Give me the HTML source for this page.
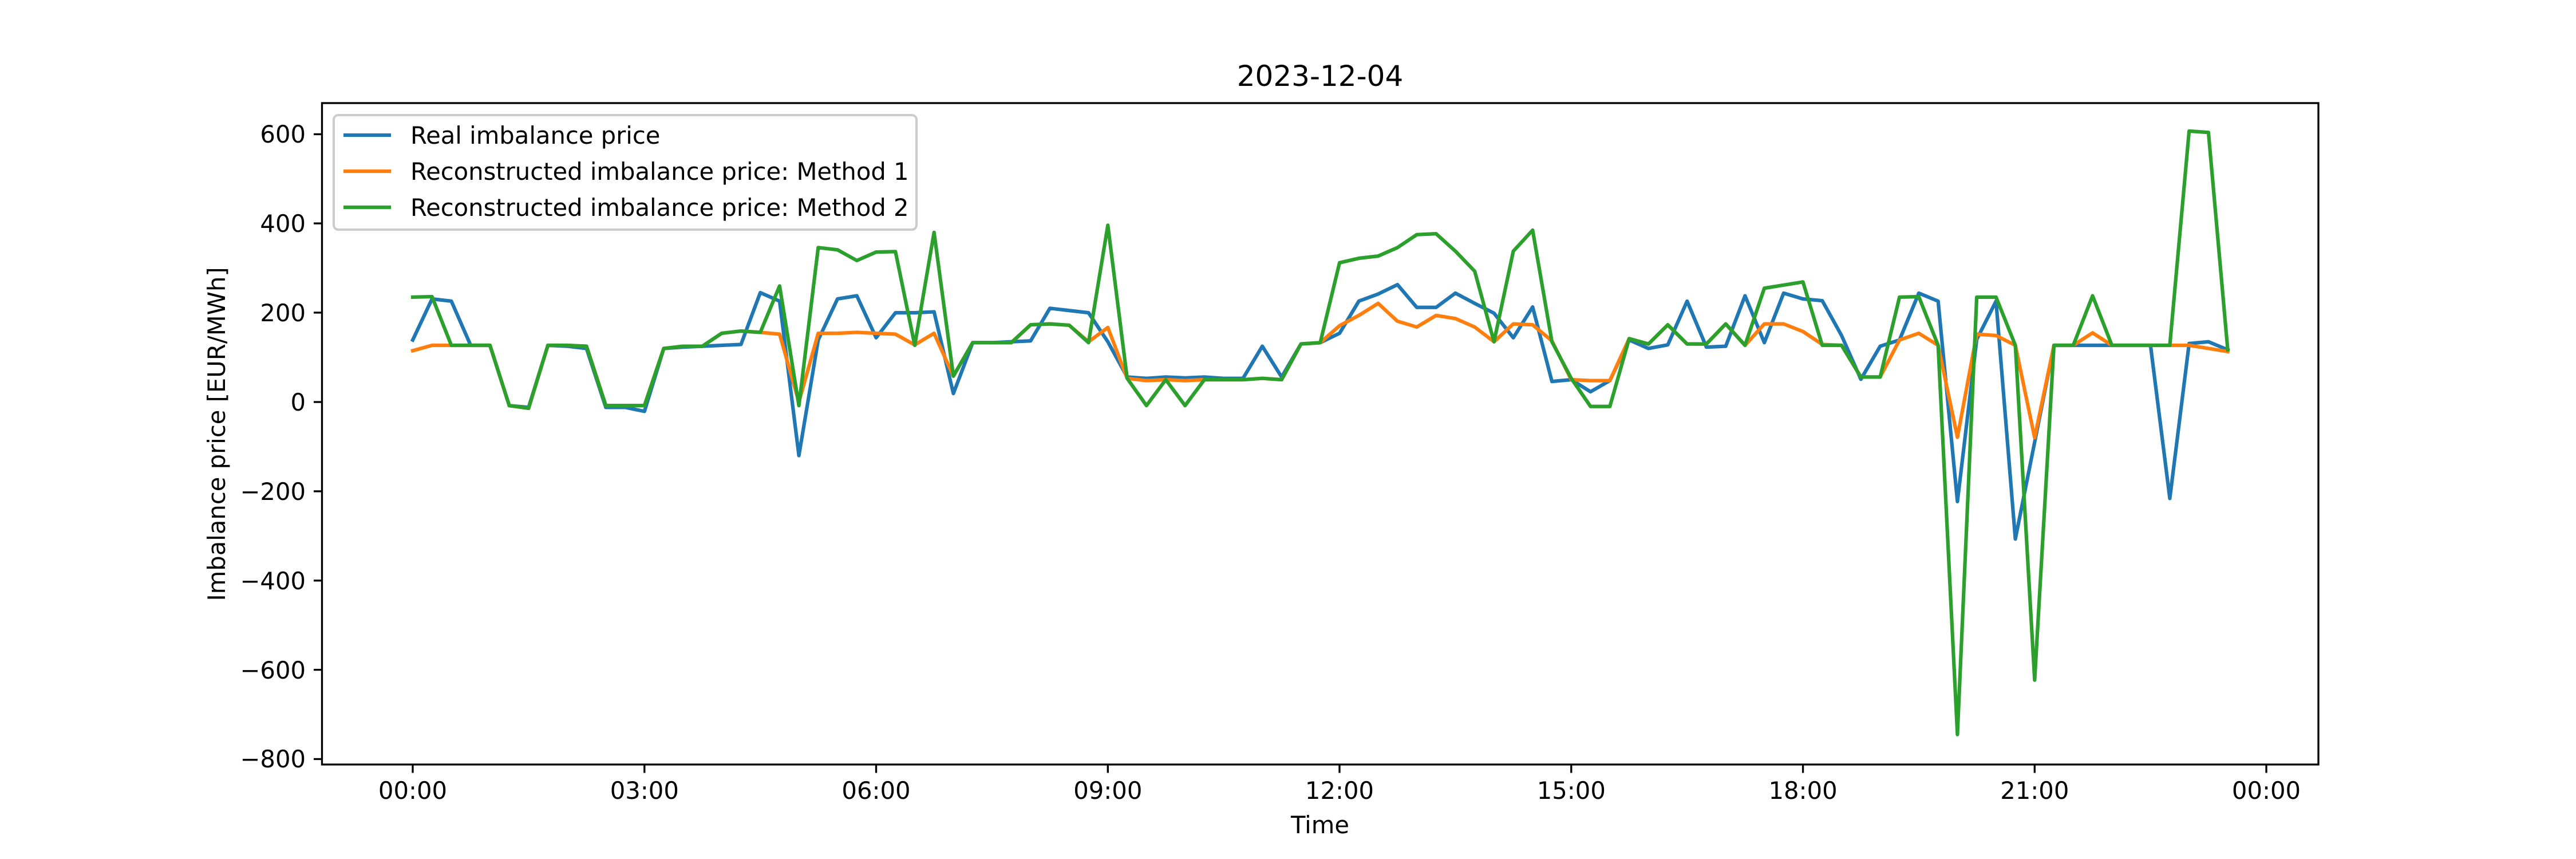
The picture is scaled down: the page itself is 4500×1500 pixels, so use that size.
<!DOCTYPE html>
<html><head><meta charset="utf-8"><style>
html,body{margin:0;padding:0;background:#fff;}
svg{display:block;font-family:"DejaVu Sans","Liberation Sans",sans-serif;}
</style></head><body>
<svg width="4500" height="1500" viewBox="0 0 4500 1500" xmlns="http://www.w3.org/2000/svg">
<rect width="4500" height="1500" fill="#fff"/>
<g transform="translate(721,702) scale(33.73,-0.7794)" fill="none" stroke-linejoin="round" stroke-linecap="square">
<polyline vector-effect="non-scaling-stroke" stroke="#1f77b4" stroke-width="6.25" points="0,139 1,231 2,226 3,127 4,127 5,-8 6,-12 7,127 8,125 9,120 10,-12 11,-12 12,-21 13,120 14,123 15,125 16,127 17,129 18,245 19,226 20,-120 21,139 22,231 23,238 24,144 25,200 26,200 27,202 28,19 29,133 30,133 31,135 32,137 33,210 34,205 35,200 36,135 37,56 38,53 39,56 40,54 41,56 42,53 43,53 44,125 45,56 46,130 47,133 48,154 49,226 50,242 51,263 52,212 53,212 54,244 55,221 56,199 57,144 58,213 59,46 60,50 61,23 62,48 63,139 64,120 65,128 66,226 67,123 68,125 69,238 70,133 71,244 72,231 73,227 74,149 75,51 76,125 77,139 78,244 79,226 80,-223 81,140 82,226 83,-307 84,-90 85,127 86,127 87,127 88,127 89,127 90,127 91,-216 92,131 93,135 94,117"/>
<polyline vector-effect="non-scaling-stroke" stroke="#ff7f0e" stroke-width="6.25" points="0,115 1,127 2,127 3,127 4,127 5,-8 6,-14 7,127 8,127 9,125 10,-8 11,-8 12,-8 13,120 14,125 15,125 16,154 17,159 18,156 19,152 20,0 21,154 22,154 23,156 24,154 25,152 26,128 27,154 28,58 29,133 30,133 31,133 32,173 33,175 34,172 35,135 36,167 37,53 38,48 39,50 40,48 41,50 42,50 43,50 44,53 45,50 46,130 47,133 48,171 49,194 50,221 51,181 52,168 53,194 54,187 55,168 56,135 57,175 58,173 59,137 60,50 61,48 62,48 63,142 64,130 65,173 66,130 67,130 68,175 69,127 70,175 71,175 72,158 73,129 74,127 75,56 76,56 77,139 78,154 79,127 80,-79 81,152 82,149 83,127 84,-80 85,127 86,127 87,155 88,127 89,127 90,127 91,127 92,127 93,120 94,113"/>
<polyline vector-effect="non-scaling-stroke" stroke="#2ca02c" stroke-width="6.25" points="0,235 1,236 2,127 3,127 4,127 5,-8 6,-14 7,127 8,127 9,125 10,-8 11,-8 12,-8 13,120 14,125 15,125 16,154 17,159 18,156 19,260 20,-8 21,346 22,341 23,317 24,336 25,337 26,127 27,380 28,58 29,133 30,133 31,133 32,173 33,175 34,172 35,133 36,396 37,53 38,-8 39,50 40,-8 41,50 42,50 43,50 44,53 45,50 46,130 47,133 48,312 49,322 50,327 51,346 52,375 53,377 54,338 55,293 56,135 57,338 58,385 59,135 60,53 61,-10 62,-10 63,142 64,130 65,173 66,130 67,130 68,175 69,127 70,255 71,262 72,269 73,127 74,127 75,56 76,56 77,235 78,236 79,127 80,-745 81,235 82,235 83,127 84,-623 85,127 86,127 87,238 88,127 89,127 90,127 91,127 92,607 93,604 94,117"/>
</g>
<!-- axes frame -->
<rect x="562.5" y="180" width="3487.5" height="1155" fill="none" stroke="#000" stroke-width="3.33"/>
<!-- y ticks -->
<g stroke="#000" stroke-width="3.33">
<line x1="548" x2="562.5" y1="234.4" y2="234.4"/><line x1="548" x2="562.5" y1="390.1" y2="390.1"/>
<line x1="548" x2="562.5" y1="545.9" y2="545.9"/><line x1="548" x2="562.5" y1="702" y2="702"/>
<line x1="548" x2="562.5" y1="857.9" y2="857.9"/><line x1="548" x2="562.5" y1="1013.8" y2="1013.8"/>
<line x1="548" x2="562.5" y1="1169.6" y2="1169.6"/><line x1="548" x2="562.5" y1="1325.5" y2="1325.5"/>
</g>
<g font-size="41.7" text-anchor="end" fill="#000">
<text x="534" y="249">600</text><text x="534" y="405">400</text><text x="534" y="561">200</text>
<text x="534" y="717">0</text><text x="534" y="873">−200</text><text x="534" y="1029">−400</text>
<text x="534" y="1185">−600</text><text x="534" y="1340">−800</text>
</g>
<!-- x ticks -->
<g stroke="#000" stroke-width="3.33">
<line x1="721" x2="721" y1="1335" y2="1349.6"/><line x1="1125.8" x2="1125.8" y1="1335" y2="1349.6"/>
<line x1="1530.5" x2="1530.5" y1="1335" y2="1349.6"/><line x1="1935.3" x2="1935.3" y1="1335" y2="1349.6"/>
<line x1="2340" x2="2340" y1="1335" y2="1349.6"/><line x1="2744.8" x2="2744.8" y1="1335" y2="1349.6"/>
<line x1="3149.6" x2="3149.6" y1="1335" y2="1349.6"/><line x1="3554.3" x2="3554.3" y1="1335" y2="1349.6"/>
<line x1="3959" x2="3959" y1="1335" y2="1349.6"/>
</g>
<g font-size="41.7" text-anchor="middle" fill="#000">
<text x="721" y="1395">00:00</text><text x="1125.8" y="1395">03:00</text><text x="1530.5" y="1395">06:00</text>
<text x="1935.3" y="1395">09:00</text><text x="2340" y="1395">12:00</text><text x="2744.8" y="1395">15:00</text>
<text x="3149.6" y="1395">18:00</text><text x="3554.3" y="1395">21:00</text><text x="3959" y="1395">00:00</text>
<text x="2306" y="1455">Time</text>
<text transform="translate(393,758) rotate(-90)">Imbalance price [EUR/MWh]</text>
<text x="2306" y="150" font-size="50">2023-12-04</text>
</g>
<!-- legend -->
<rect x="583" y="201" width="1018" height="200" rx="8" ry="8" fill="#fff" fill-opacity="0.8" stroke="#cccccc" stroke-width="4"/>
<line x1="600" x2="683" y1="236" y2="236" stroke="#1f77b4" stroke-width="6.25"/>
<line x1="600" x2="683" y1="299" y2="299" stroke="#ff7f0e" stroke-width="6.25"/>
<line x1="600" x2="683" y1="362" y2="362" stroke="#2ca02c" stroke-width="6.25"/>
<g font-size="41.7" fill="#000">
<text x="717" y="251">Real imbalance price</text>
<text x="717" y="314">Reconstructed imbalance price: Method 1</text>
<text x="717" y="377">Reconstructed imbalance price: Method 2</text>
</g>
</svg>
</body></html>
